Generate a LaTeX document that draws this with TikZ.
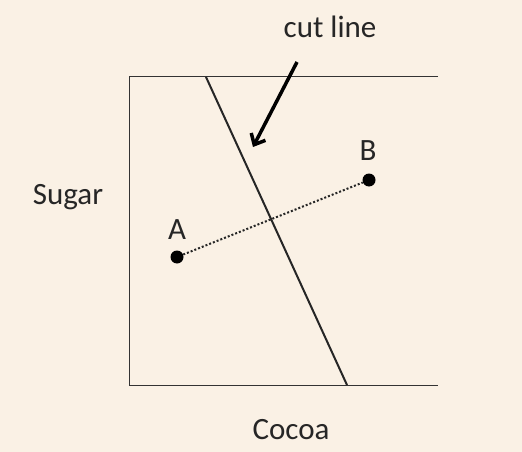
\documentclass[tikz,border=0pt]{standalone}
\usepackage{fontspec}
\setmainfont{Carlito}
\usetikzlibrary{arrows.meta}
\definecolor{bg}{RGB}{250,241,229}
\begin{document}
\begin{tikzpicture}[x=1pt,y=-1pt,
  lbl/.style={font=\fontsize{31}{36}\selectfont, text=black!85, inner sep=0pt},
  dotnode/.style={circle, fill=black, inner sep=0pt, minimum size=13pt},
  axis/.style={line width=1pt, black!80},
  cutl/.style={line width=2pt, black!85},
  conn/.style={line width=2pt, dotted, black!85}]
\fill[bg] (0,0) rectangle (522,452);
\useasboundingbox (0,0) rectangle (522,452);
\coordinate (tl) at (129,77);
\coordinate (tr) at (438,77);
\coordinate (bl) at (129,385);
\coordinate (br) at (438,385);
\draw[axis] (tr) -- (tl) -- (bl) -- (br);
\coordinate (ctop) at (206,77);
\coordinate (cbot) at (347,385);
\draw[cutl] (ctop) -- (cbot);
\node[dotnode] (A) at (177,257) {};
\node[dotnode] (B) at (369,180) {};
\draw[conn] (A) -- (B);
\node[lbl] (Alab) at (177,230) {A};
\node[lbl] (Blab) at (368,151) {B};
\node[lbl] (cut) at (330,27) {cut line};
\node[lbl] (sugar) at (68,197) {Sugar};
\node[lbl] (cocoa) at (291,430) {Cocoa};
\coordinate (as) at (297,62);
\coordinate (ae) at (253,147);
\draw[line width=3.5pt, black, -{Straight Barb[length=9pt,width=16pt]}] (as) -- (ae);
\end{tikzpicture}
\end{document}
